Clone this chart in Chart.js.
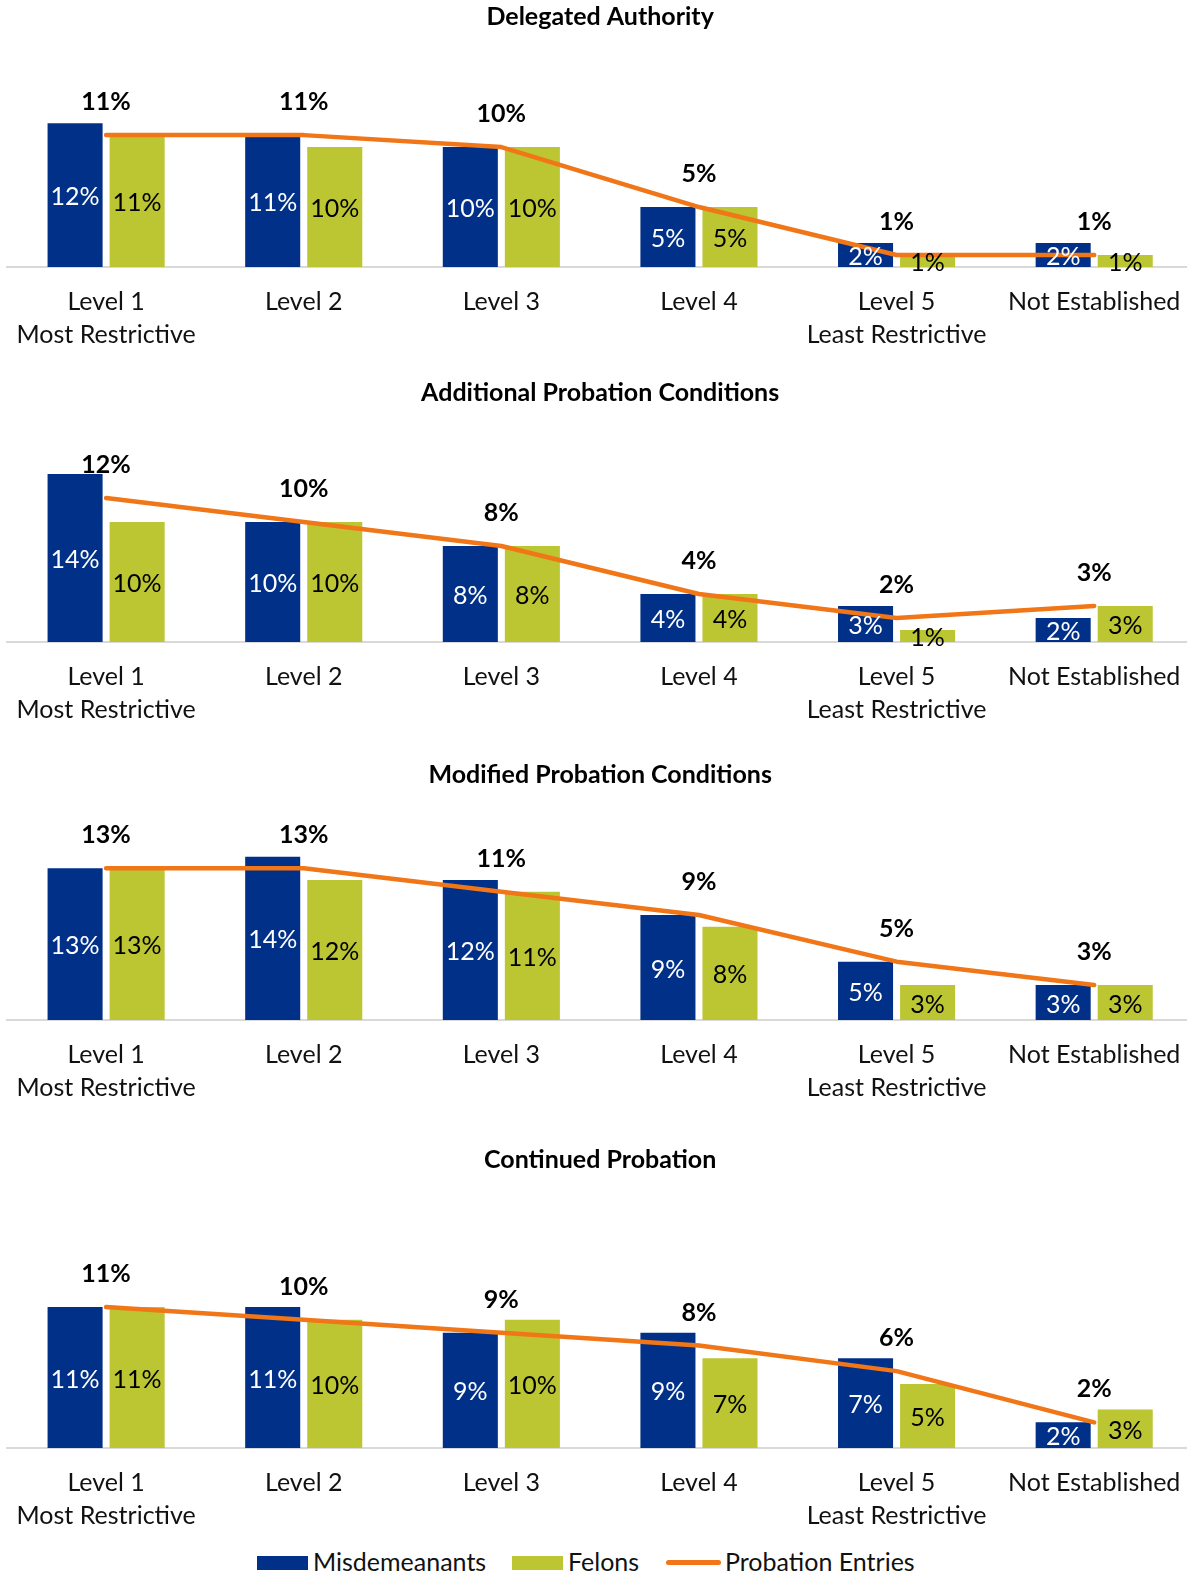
<!DOCTYPE html>
<html>
<head>
<meta charset="utf-8">
<title>Probation outcomes by supervision level</title>
<script src="https://cdn.jsdelivr.net/npm/chart.js@4.4.0/dist/chart.umd.min.js"></script>
<style>
  html, body { margin: 0; padding: 0; background: #fff; overflow: hidden; }
  body { width: 1187px; height: 1575px; position: relative; font-family: Lato, sans-serif; }
  .panel { position: absolute; left: 0; }
  .panel canvas { display: block; }
  .legend-item { position: absolute; font-size: 25px; color: #111; line-height: 30px; }
  .swatch { position: absolute; }
</style>
</head>
<body>

<!-- the plot area runs a little past the right edge, so the canvases are wider than the page -->
<div class="panel" style="top:0px"><canvas id="delegatedChart" width="1193" height="357"></canvas></div>
<div class="panel" style="top:376px"><canvas id="additionalChart" width="1193" height="356"></canvas></div>
<div class="panel" style="top:758px"><canvas id="modifiedChart" width="1193" height="352"></canvas></div>
<div class="panel" style="top:1143px"><canvas id="continuedChart" width="1193" height="395"></canvas></div>

<div class="swatch" style="left:257px; top:1556px; width:51px; height:14px; background:#003087"></div>
<div class="legend-item" style="left:313px; top:1546px">Misdemeanants</div>
<div class="swatch" style="left:512px; top:1556px; width:51px; height:14px; background:#BCC532"></div>
<div class="legend-item" style="left:568px; top:1546px">Felons</div>
<div class="swatch" style="left:666px; top:1560px; width:55px; height:5px; border-radius:3px; background:#F07617"></div>
<div class="legend-item" style="left:725px; top:1546px">Probation Entries</div>

<script>
const levels = [['Level 1', 'Most Restrictive'], 'Level 2', 'Level 3', 'Level 4', ['Level 5', 'Least Restrictive'], 'Not Established'];

// percentages by level, in the order of `levels`
const delegatedMisd = [12, 11, 10, 5, 2, 2];
const delegatedFel = [11, 10, 10, 5, 1, 1];
const delegatedEntries = [11, 11, 10, 5, 1, 1];

const additionalMisd = [14, 10, 8, 4, 3, 2];
const additionalFel = [10, 10, 8, 4, 1, 3];
const additionalEntries = [12, 10, 8, 4, 2, 3];

const modifiedMisd = [13, 14, 12, 9, 5, 3];
const modifiedFel = [13, 12, 11, 8, 3, 3];
const modifiedEntries = [13, 13, 11, 9, 5, 3];

const continuedMisd = [11, 11, 9, 9, 7, 2];
const continuedFel = [11, 10, 10, 7, 5, 3];
const continuedEntries = [11, 10, 9, 8, 6, 2];

const NAVY = '#003087';
const OLIVE = '#BCC532';
const ORANGE = '#F07617';
const FONT = 'Lato';
const FONT_SIZE = 25;

Chart.defaults.font.family = FONT;
Chart.defaults.color = '#111';

// writes the percentage on every bar and above every point of the line
const valueLabels = {
  id: 'valueLabels',
  afterDatasetsDraw(chart) {
    const ctx = chart.ctx;
    ctx.save();
    ctx.textAlign = 'center';
    ctx.textBaseline = 'middle';
    chart.data.datasets.forEach((ds, i) => {
      const meta = chart.getDatasetMeta(i);
      meta.data.forEach((el, j) => {
        const text = ds.data[j] + '%';
        if (meta.type === 'bar') {
          ctx.font = FONT_SIZE + 'px ' + FONT;
          ctx.fillStyle = ds.backgroundColor === NAVY ? '#fff' : '#000';
          ctx.fillText(text, el.x, (el.y + el.base) / 2 + 2);
        } else {
          ctx.font = 'bold ' + FONT_SIZE + 'px ' + FONT;
          ctx.fillStyle = '#000';
          ctx.fillText(text, el.x, el.y - 33);
        }
      });
    });
    ctx.restore();
  }
};

function buildChart(canvasId, title, misd, fel, entries, yMax) {
  const ctx = document.getElementById(canvasId).getContext('2d');
  return new Chart(ctx, {
    type: 'bar',
    data: {
      labels: levels,
      datasets: [
        {
          type: 'line',
          label: 'Probation Entries',
          data: entries,
          borderColor: ORANGE,
          borderWidth: 4.5,
          borderCapStyle: 'round',
          borderJoinStyle: 'round',
          pointRadius: 0,
          fill: false,
          order: 0
        },
        {
          label: 'Misdemeanants',
          data: misd,
          backgroundColor: NAVY,
          categoryPercentage: 0.628,
          barPercentage: 0.887,
          order: 1
        },
        {
          label: 'Felons',
          data: fel,
          backgroundColor: OLIVE,
          categoryPercentage: 0.628,
          barPercentage: 0.887,
          order: 2
        }
      ]
    },
    options: {
      responsive: false,
      animation: false,
      devicePixelRatio: 1,
      layout: { padding: { left: 7.3, right: 0, top: 0, bottom: 0 }, autoPadding: false },
      scales: {
        x: {
          grid: { display: false, drawTicks: false },
          border: { display: true, color: '#D9D9D9', width: 2 },
          ticks: {
            padding: 18,
            maxRotation: 0,
            autoSkip: false,
            color: '#111',
            font: { size: FONT_SIZE, lineHeight: '33px' }
          },
          // fixed axis height, and no extra side padding for the outer labels
          afterFit: scale => {
            scale.height = 90;
            scale.paddingLeft = 0;
            scale.paddingRight = 0;
          }
        },
        y: { display: false, min: 0, max: yMax }
      },
      plugins: {
        legend: { display: false },
        tooltip: { enabled: false },
        title: {
          display: true,
          text: title,
          color: '#000',
          font: { size: FONT_SIZE, weight: 'bold', lineHeight: '26px' },
          padding: { top: 4, bottom: 20 }
        }
      }
    },
    plugins: [valueLabels]
  });
}

buildChart('delegatedChart', 'Delegated Authority', delegatedMisd, delegatedFel, delegatedEntries, 18.1);
buildChart('additionalChart', 'Additional Probation Conditions', additionalMisd, additionalFel, additionalEntries, 18.0);
buildChart('modifiedChart', 'Modified Probation Conditions', modifiedMisd, modifiedFel, modifiedEntries, 18.17);
buildChart('continuedChart', 'Continued Probation', continuedMisd, continuedFel, continuedEntries, 19.9);
</script>
</body>
</html>
